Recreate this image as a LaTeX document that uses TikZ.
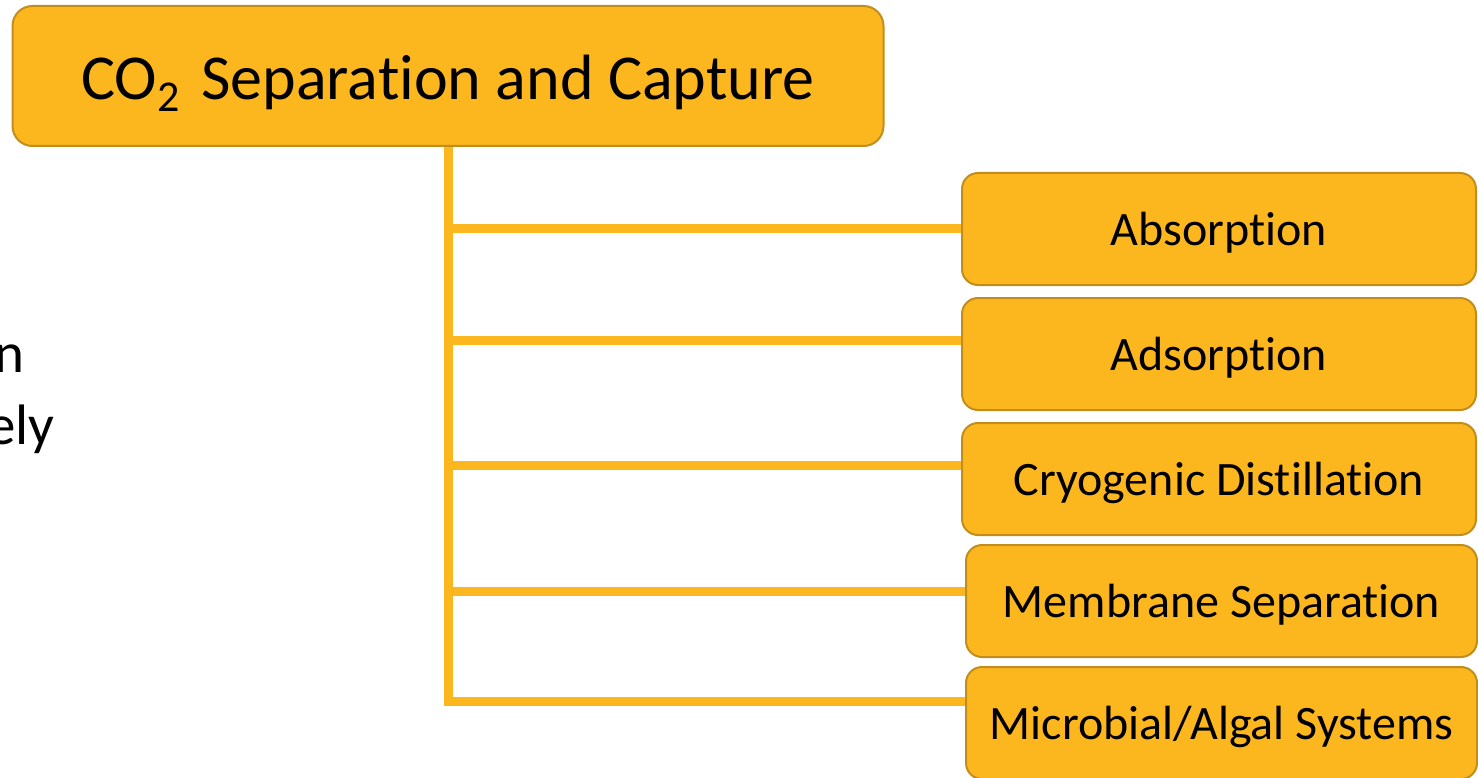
\documentclass[tikz,border=0pt]{standalone}
\usepackage{fontspec}
\setmainfont{Carlito}[Ligatures={NoCommon}]
\definecolor{amber}{HTML}{FDB71E}
\definecolor{amberdark}{HTML}{C18E1E}
\begin{document}
\begin{tikzpicture}[x=1pt,y=-1pt,
  box/.style={draw=amberdark, line width=2pt, fill=amber, rounded corners=16pt,
    inner sep=0pt, minimum width=514pt, minimum height=112pt,
    font=\fontsize{48}{52}\selectfont, text height=34pt, text depth=2pt},
  topbox/.style={box, rounded corners=20pt, minimum width=871pt, minimum height=140pt,
    font=\fontsize{64}{68}\selectfont, text height=50pt, text depth=2pt},
  trunk/.style={draw=amber, line width=9pt, line join=miter},
  sidetext/.style={font=\fontsize{57}{60}\selectfont, inner sep=0pt, anchor=base east}]
\useasboundingbox (0,0) rectangle (1478,778);
\clip (0,0) rectangle (1478,778);

% partly hidden text on the left
\node[sidetext] (t1) at (25,372) {n};
\node[sidetext] (t2) at (55,444) {ely};

% nodes
\node[topbox] (top) at (448,76) {CO\raisebox{-12pt}{\fontsize{44}{44}\selectfont 2}\hspace{22pt}Separation and Capture};
\node[box] (abs) at (1219,229) {Absorption};
\node[box] (ads) at (1219,354) {Adsorption};
\node[box] (cry) at (1219,479) {Cryogenic Distillation};
\node[box, minimum width=511pt] (mem) at (1221.5,601) {Membrane Separation};
\node[box, minimum width=511pt] (mic) at (1221.5,723) {Microbial/Algal Systems};

% branch points
\coordinate (b1) at (448,229);
\coordinate (b2) at (448,340);
\coordinate (b3) at (448,465);
\coordinate (b4) at (448,591);
\coordinate (b5) at (448,701);

% connectors
\draw[trunk] (top.south) -- (b5) -- (b5 -| mic.west);
\draw[trunk] (b1) -- (b1 -| abs.west);
\draw[trunk] (b2) -- (b2 -| ads.west);
\draw[trunk] (b3) -- (b3 -| cry.west);
\draw[trunk] (b4) -- (b4 -| mem.west);
\end{tikzpicture}
\end{document}
